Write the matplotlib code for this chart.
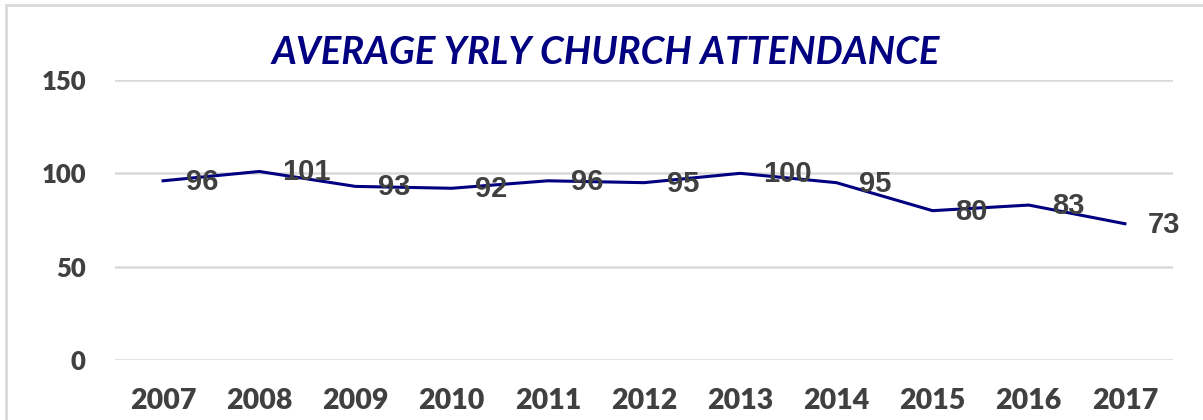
import matplotlib
matplotlib.use("Agg")
import matplotlib.pyplot as plt
from matplotlib.patches import Rectangle

# data
years = ["2007", "2008", "2009", "2010", "2011", "2012", "2013", "2014", "2015", "2016", "2017"]
attendance = [96, 101, 93, 92, 96, 95, 100, 95, 80, 83, 73]
yticks = [0, 50, 100, 150]

title_txt = "AVERAGE YRLY CHURCH ATTENDANCE"
navy = "#000080"
txt_gray = "#404040"

fig = plt.figure(figsize=(12.03, 4.2), dpi=100)
ax = fig.add_axes([115 / 1203, 1 - 360 / 420, 1058 / 1203, 280 / 420])

x = list(range(len(years)))
ax.plot(x, attendance, color=navy, lw=2.2, solid_joinstyle="round")

# data labels to the right of each point
for xi, v in zip(x, attendance):
    ax.annotate(str(v), (xi, v), xytext=(23, -1), textcoords="offset pixels",
                ha="left", va="center", fontsize=21, fontweight="bold",
                color=txt_gray, family="Liberation Sans")

ax.set_xlim(-0.5, len(years) - 0.5)
ax.set_ylim(0, 150)
ax.set_yticks(yticks)
ax.set_xticks(x)
ax.set_xticklabels(years)
ax.grid(axis="y", color="#d9d9d9", lw=1.8)
ax.set_axisbelow(True)
for s in ax.spines.values():
    s.set_visible(False)
ax.tick_params(length=0)
ax.tick_params(axis="x", pad=20)
ax.tick_params(axis="y", pad=21)
for lab in ax.get_xticklabels():
    lab.set_fontsize(20.5)
    lab.set_fontweight("heavy")
    lab.set_family("Lato")
    lab.set_color(txt_gray)
for lab in ax.get_yticklabels():
    lab.set_fontsize(18.5)
    lab.set_fontweight("heavy")
    lab.set_family("Lato")
    lab.set_color(txt_gray)

fig.text(606 / 1203, 1 - 53 / 420, title_txt, ha="center", va="center",
         fontsize=27.5, fontweight="bold", style="italic", family="Lato", color=navy)

# chart frame (cut off on the right and bottom)
fig.patches.append(Rectangle((6 / 1203, -0.1), 1.1, 1.1 - 5 / 420,
                             transform=fig.transFigure, fill=False,
                             edgecolor="#d9d9d9", lw=2))

fig.savefig("out.png", dpi=100)
